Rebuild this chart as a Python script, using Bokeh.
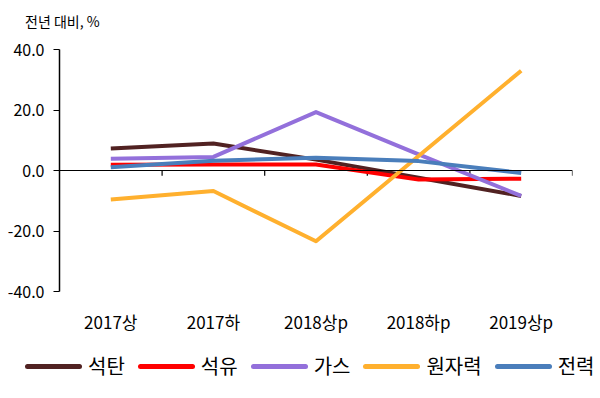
from bokeh.plotting import figure
from bokeh.layouts import column
from bokeh.models import (Range1d, LinearAxis, FixedTicker, Div,
                          NumeralTickFormatter, Span)
from bokeh.embed import file_html
from bokeh.resources import INLINE

categories = ["2017상", "2017하", "2018상p", "2018하p", "2019상p"]
series_names = ["석탄", "석유", "가스", "원자력", "전력"]
coal = [7.3, 8.9, 3.6, -2.4, -8.4]
oil = [1.9, 2.0, 2.0, -3.0, -2.7]
gas = [3.9, 4.5, 19.3, 5.3, -8.4]
nuclear = [-9.6, -6.8, -23.4, 4.8, 33.0]
power = [1.1, 3.2, 4.2, 3.1, -0.8]
y_ticks = [-40, -20, 0, 20, 40]
title_text = "전년 대비, %"

colors = ["#512222", "#FF0000", "#9370DB", "#FFB02E", "#4A7EBB"]
FONT = "Noto Sans CJK KR"

# title strip
title_div = Div(
    text=(f'<div style="font-family:\'{FONT}\';font-size:14px;color:black;'
          f'line-height:17px;padding-top:13px;padding-left:25px;white-space:nowrap">'
          f'{title_text}</div>'),
    width=598, height=30, margin=0)

p = figure(width=598, height=310, output_backend="svg", toolbar_location=None,
           x_range=Range1d(-0.5, 4.5), y_range=Range1d(-40, 40),
           min_border_left=59, min_border_right=26, min_border_top=19,
           min_border_bottom=49, x_axis_type=None, y_axis_type=None)
p.outline_line_color = None
p.grid.visible = False
p.background_fill_color = "white"
p.border_fill_color = "white"

# y axis
yax = LinearAxis(ticker=FixedTicker(ticks=y_ticks),
                 formatter=NumeralTickFormatter(format="0.0"))
yax.major_label_text_font = FONT
yax.major_label_text_font_size = "16px"
yax.major_label_text_color = "black"
yax.axis_line_color = "black"
yax.axis_line_width = 1.5
yax.major_tick_line_color = "black"
yax.major_tick_out = 6
yax.major_tick_in = 0
yax.minor_tick_line_color = None
yax.major_label_standoff = 9
p.add_layout(yax, "left")

# zero line with category boundary ticks
p.add_layout(Span(location=0, dimension="width", line_color="black", line_width=1.2))
n = len(categories)
bounds = [i + 0.5 for i in range(n)]
p.segment(x0=bounds, y0=[0] * n, x1=bounds, y1=[-1.7] * n,
          line_color="black", line_width=1.2)

# category labels at bottom
xlab = LinearAxis(ticker=FixedTicker(ticks=list(range(n))),
                  major_label_overrides={i: c for i, c in enumerate(categories)})
xlab.axis_line_color = None
xlab.major_tick_line_color = None
xlab.major_tick_out = 0
xlab.major_tick_in = 0
xlab.minor_tick_line_color = None
xlab.major_label_text_font = FONT
xlab.major_label_text_font_size = "17px"
xlab.major_label_text_color = "black"
xlab.major_label_standoff = 17
p.add_layout(xlab, "below")

xs = list(range(n))
all_series = [coal, oil, gas, nuclear, power]
for vals, col in zip(all_series, colors):
    p.line(xs, vals, line_color=col, line_width=4, line_join="round")

# legend strip below the chart
items_html = "".join(
    f'<div style="display:flex;align-items:center;margin-right:13px">'
    f'<span style="display:inline-block;width:57px;height:5px;border-radius:3px;'
    f'background:{col};margin-right:6px"></span><span>{name}</span></div>'
    for name, col in zip(series_names, colors))
legend_div = Div(
    text=(f'<div style="display:flex;align-items:center;height:52px;padding-left:25px;'
          f'font-family:\'{FONT}\';font-size:20px;color:black;white-space:nowrap">'
          f'{items_html}</div>'),
    width=598, height=56, margin=0)

open("out.html", "w").write(file_html(column(title_div, p, legend_div), INLINE))
